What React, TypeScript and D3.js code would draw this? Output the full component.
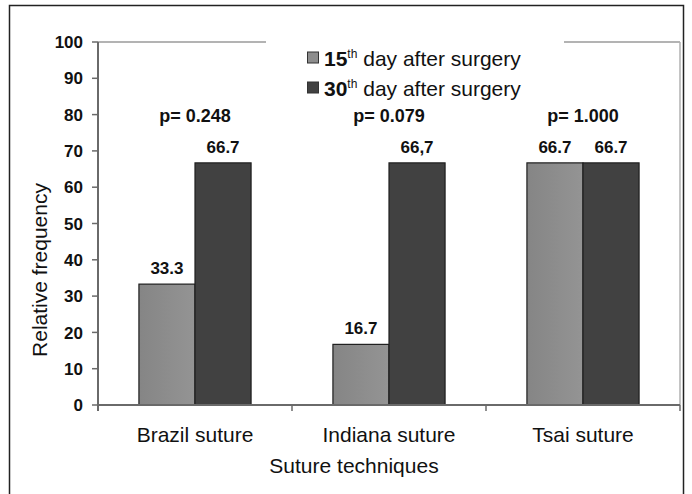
import React from "react";
import * as d3 from "d3";

const categories = ["Brazil suture", "Indiana suture", "Tsai suture"];
const series = ["15", "30"];
const day15 = [33.3, 16.7, 66.7];
const day30 = [66.7, 66.7, 66.7];
const day15Labels = ["33.3", "16.7", "66.7"];
const day30Labels = ["66.7", "66,7", "66.7"];
const pValues = ["p= 0.248", "p= 0.079", "p= 1.000"];
const yTicks = [0, 10, 20, 30, 40, 50, 60, 70, 80, 90, 100];

const W = 692, H = 494;
const left = 98, right = 680, top = 42, bottom = 405;
const colors = ["#8d8d8d", "#414141"];
const font = "Liberation Sans, Arial, sans-serif";

export default function App() {
  const y = d3.scaleLinear().domain([0, 100]).range([bottom, top]);
  const x0 = d3.scaleBand().domain(categories).range([left, right]).paddingInner(0).paddingOuter(0);
  const x1 = d3.scaleBand().domain(series).range([0, x0.bandwidth()]).paddingInner(0).paddingOuter(0.73);
  const vals = [day15, day30];
  const labs = [day15Labels, day30Labels];
  const boundaries = [0, 1, 2, 3].map((i) => left + i * x0.bandwidth());

  return (
    <svg width={W} height={H} style={{ position: "absolute", left: 0, top: 0 }} fontFamily={font}>
      <defs>
        <linearGradient id="g0" x1="0" x2="1" y1="0" y2="0">
          <stop offset="0" stopColor="#858585" />
          <stop offset="1" stopColor="#949494" />
        </linearGradient>
      </defs>
      <rect x={0} y={0} width={W} height={H} fill="#fff" />
      <rect x={9.5} y={5.5} width={674} height={500} fill="none" stroke="#222" strokeWidth={1.5} />
      {/* plot frame */}
      <line x1={left} x2={right} y1={top} y2={top} stroke="#9a9a9a" strokeWidth={1.5} />
      <line x1={right} x2={right} y1={top} y2={bottom} stroke="#b0b0b0" strokeWidth={1.5} />
      {/* legend box covering frame */}
      <rect x={266} y={34} width={298} height={68} fill="#fff" />
      {/* y axis */}
      <line x1={left} x2={left} y1={top} y2={bottom + 6} stroke="#6a6a6a" strokeWidth={2} />
      {yTicks.map((t) => (
        <g key={t}>
          <line x1={left - 6} x2={left} y1={y(t)} y2={y(t)} stroke="#6a6a6a" strokeWidth={1.5} />
          <text x={83} y={y(t)} dy="0.36em" textAnchor="end" fontSize={17} fontWeight="bold" fill="#111">
            {t}
          </text>
        </g>
      ))}
      {/* bars */}
      {categories.map((c, i) => (
        <g key={c} transform={`translate(${x0(c)},0)`}>
          {series.map((s, j) => (
            <g key={s}>
              <rect
                x={x1(s)}
                y={y(vals[j][i])}
                width={x1.bandwidth()}
                height={bottom - y(vals[j][i])}
                fill={j === 0 ? "url(#g0)" : colors[1]}
                stroke="#1e1e1e"
                strokeWidth={1.2}
              />
              <text
                x={(x1(s) as number) + x1.bandwidth() / 2}
                y={y(vals[j][i]) - 10}
                textAnchor="middle"
                fontSize={17}
                fontWeight="bold"
                fill="#111"
              >
                {labs[j][i]}
              </text>
            </g>
          ))}
          <text x={x0.bandwidth() / 2} y={122} textAnchor="middle" fontSize={18} fontWeight="bold" fill="#111">
            {pValues[i]}
          </text>
          <text x={x0.bandwidth() / 2} y={442} textAnchor="middle" fontSize={21} fill="#111">
            {c}
          </text>
        </g>
      ))}
      {/* x axis */}
      <line x1={left - 1} x2={right} y1={bottom} y2={bottom} stroke="#6a6a6a" strokeWidth={2} />
      {boundaries.map((b, i) => (
        <line key={i} x1={b} x2={b} y1={bottom} y2={bottom + 6} stroke="#6a6a6a" strokeWidth={1.5} />
      ))}
      {/* axis titles */}
      <text x={354} y={473} textAnchor="middle" fontSize={21} fill="#111">Suture techniques</text>
      <text transform="translate(47,270) rotate(-90)" textAnchor="middle" fontSize={21} fill="#111">
        Relative frequency
      </text>
      {/* legend */}
      {series.map((s, j) => (
        <g key={s} transform={`translate(307,${57.5 + j * 30})`}>
          <rect x={0.5} y={-5.5} width={11} height={11} fill={colors[j]} stroke="#333" strokeWidth={1} />
          <text x={17} y={8} fontSize={21} fill="#111">
            <tspan fontWeight="bold">{s}</tspan>
            <tspan fontSize={12} dy={-8}>th</tspan>
            <tspan dy={8}> day after surgery</tspan>
          </text>
        </g>
      ))}
    </svg>
  );
}
